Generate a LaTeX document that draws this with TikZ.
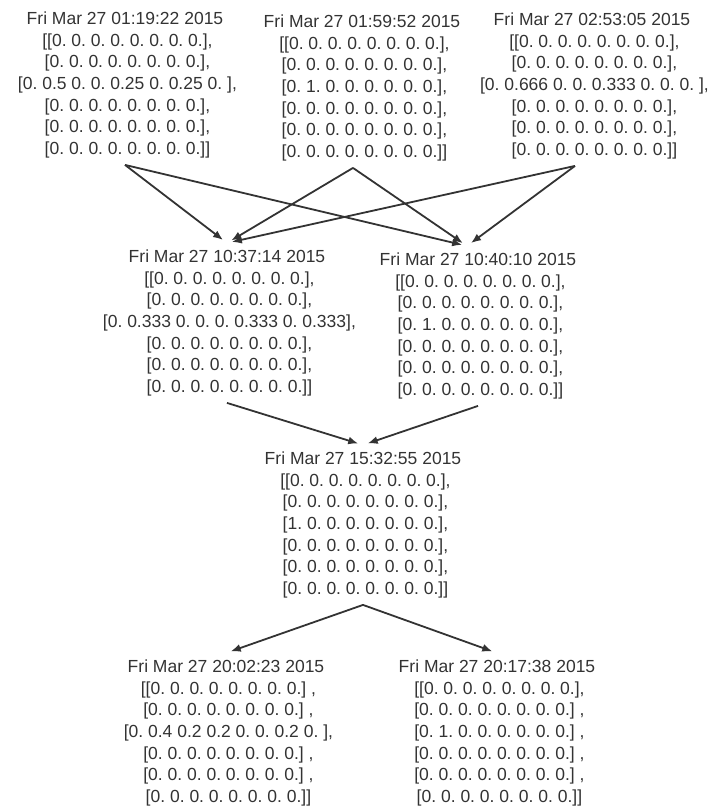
\documentclass[tikz,border=0pt]{standalone}
\usepackage{fontspec}
\setmainfont{Liberation Sans}
\usetikzlibrary{arrows.meta}
\definecolor{cInk}{HTML}{333333}
\frenchspacing

\begin{document}
\begin{tikzpicture}[
  x=1pt, y=-1pt,
  snap/.style={anchor=north, align=center, inner sep=0pt, outer sep=7pt,
    text=cInk, font=\fontsize{17.5}{21.6}\selectfont},
  arr/.style={-{Latex[length=10pt,width=8pt]}, line width=1.8pt,
    color=cInk, shorten >=5pt},
]
\useasboundingbox (0,0) rectangle (710,807);

%% ── top row ─────────────────────────────────────────────────────────
\node[snap] (t1) at (125,5) {Fri Mar 27 01:19:22 2015\\{}
  [[0. 0. 0. 0. 0. 0. 0. 0.],\\{}
  [0. 0. 0. 0. 0. 0. 0. 0.],\\{}
  [0. 0.5 0. 0. 0.25 0. 0.25 0. ],\\{}
  [0. 0. 0. 0. 0. 0. 0. 0.],\\{}
  [0. 0. 0. 0. 0. 0. 0. 0.],\\{}
  [0. 0. 0. 0. 0. 0. 0. 0.]]};

\node[snap] (t2) at (362,8) {Fri Mar 27 01:59:52 2015\\{}
  [[0. 0. 0. 0. 0. 0. 0. 0.],\\{}
  [0. 0. 0. 0. 0. 0. 0. 0.],\\{}
  [0. 1. 0. 0. 0. 0. 0. 0.],\\{}
  [0. 0. 0. 0. 0. 0. 0. 0.],\\{}
  [0. 0. 0. 0. 0. 0. 0. 0.],\\{}
  [0. 0. 0. 0. 0. 0. 0. 0.]]};

\node[snap] (t3) at (592,6) {Fri Mar 27 02:53:05 2015\\{}
  [[0. 0. 0. 0. 0. 0. 0. 0.],\\{}
  [0. 0. 0. 0. 0. 0. 0. 0.],\\{}
  [0. 0.666 0. 0. 0.333 0. 0. 0. ],\\{}
  [0. 0. 0. 0. 0. 0. 0. 0.],\\{}
  [0. 0. 0. 0. 0. 0. 0. 0.],\\{}
  [0. 0. 0. 0. 0. 0. 0. 0.]]};

%% ── middle row ──────────────────────────────────────────────────────
\node[snap] (m1) at (227,243) {Fri Mar 27 10:37:14 2015\\{}
  [[0. 0. 0. 0. 0. 0. 0. 0.],\\{}
  [0. 0. 0. 0. 0. 0. 0. 0.],\\{}
  [0. 0.333 0. 0. 0. 0.333 0. 0.333],\\{}
  [0. 0. 0. 0. 0. 0. 0. 0.],\\{}
  [0. 0. 0. 0. 0. 0. 0. 0.],\\{}
  [0. 0. 0. 0. 0. 0. 0. 0.]]};

\node[snap] (m2) at (478,246) {Fri Mar 27 10:40:10 2015\\{}
  [[0. 0. 0. 0. 0. 0. 0. 0.],\\{}
  [0. 0. 0. 0. 0. 0. 0. 0.],\\{}
  [0. 1. 0. 0. 0. 0. 0. 0.],\\{}
  [0. 0. 0. 0. 0. 0. 0. 0.],\\{}
  [0. 0. 0. 0. 0. 0. 0. 0.],\\{}
  [0. 0. 0. 0. 0. 0. 0. 0.]]};

%% ── merged ──────────────────────────────────────────────────────────
\node[snap] (c) at (363,445) {Fri Mar 27 15:32:55 2015\\{}
  [[0. 0. 0. 0. 0. 0. 0. 0.],\\{}
  [0. 0. 0. 0. 0. 0. 0. 0.],\\{}
  [1. 0. 0. 0. 0. 0. 0. 0.],\\{}
  [0. 0. 0. 0. 0. 0. 0. 0.],\\{}
  [0. 0. 0. 0. 0. 0. 0. 0.],\\{}
  [0. 0. 0. 0. 0. 0. 0. 0.]]};

%% ── bottom row ──────────────────────────────────────────────────────
\node[snap] (b1) at (226,653) {Fri Mar 27 20:02:23 2015\\{}
  [[0. 0. 0. 0. 0. 0. 0. 0.] ,\\{}
  [0. 0. 0. 0. 0. 0. 0. 0.] ,\\{}
  [0. 0.4 0.2 0.2 0. 0. 0.2 0. ],\\{}
  [0. 0. 0. 0. 0. 0. 0. 0.] ,\\{}
  [0. 0. 0. 0. 0. 0. 0. 0.] ,\\{}
  [0. 0. 0. 0. 0. 0. 0. 0.]]};

\node[snap] (b2) at (497,653) {Fri Mar 27 20:17:38 2015\\{}
  [[0. 0. 0. 0. 0. 0. 0. 0.],\\{}
  [0. 0. 0. 0. 0. 0. 0. 0.] ,\\{}
  [0. 1. 0. 0. 0. 0. 0. 0.] ,\\{}
  [0. 0. 0. 0. 0. 0. 0. 0.] ,\\{}
  [0. 0. 0. 0. 0. 0. 0. 0.] ,\\{}
  [0. 0. 0. 0. 0. 0. 0. 0.]]};

%% ── arrows ──────────────────────────────────────────────────────────
\draw[arr] (t1.south) -- (m1.north);
\draw[arr] (t1.south) -- ([xshift=-11]m2.north);
\draw[arr] ([xshift=-9]t2.south) -- (m1.north);
\draw[arr] ([xshift=-9]t2.south) -- ([xshift=-11]m2.north);
\draw[arr] ([xshift=-17]t3.south) -- (m1.north);
\draw[arr] ([xshift=-17]t3.south) -- ([xshift=-11]m2.north);

\draw[arr] (m1.south) -- (c.north);
\draw[arr] (m2.south) -- (c.north);

\draw[arr] (c.south) -- (b1.north);
\draw[arr] (c.south) -- (b2.north);

\end{tikzpicture}
\end{document}
